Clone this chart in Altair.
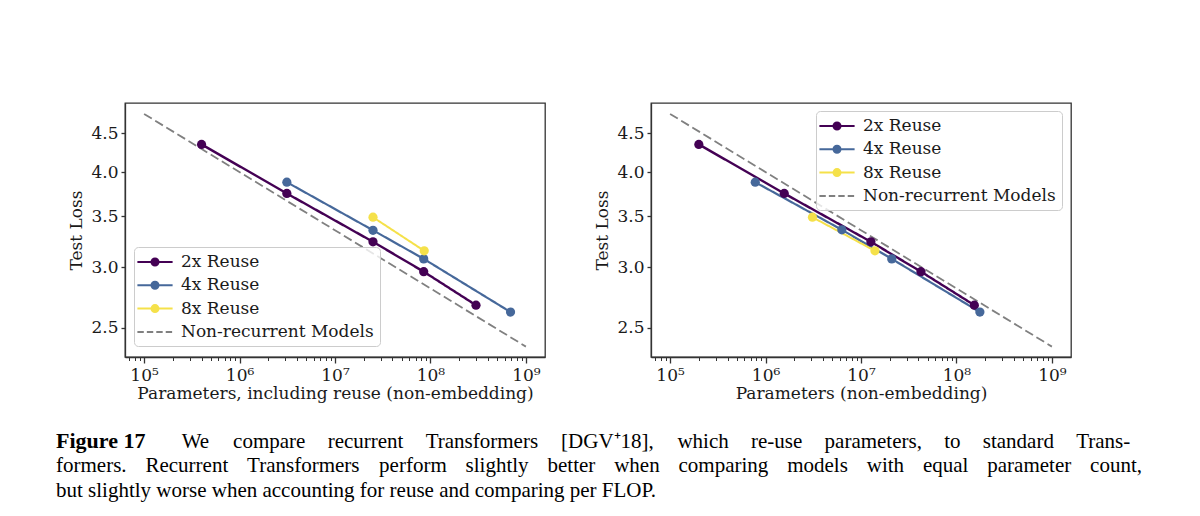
import altair as alt
import pandas as pd

# ---------------- data ----------------
series_names = ["2x Reuse", "4x Reuse", "8x Reuse", "Non-recurrent Models"]
series_colors = ["#440154", "#46689a", "#f5e14a", "#808080"]

# Left panel: parameters including reuse (non-embedding)
left_2x_x = [4.0e5, 3.13e6, 2.5e7, 8.5e7, 3.0e8]
left_2x_y = [4.35, 3.75, 3.24, 2.96, 2.675]
left_4x_x = [3.13e6, 2.5e7, 8.5e7, 6.9e8]
left_4x_y = [3.88, 3.355, 3.077, 2.62]
left_8x_x = [2.5e7, 8.6e7]
left_8x_y = [3.49, 3.153]

# Right panel: parameters (non-embedding)
right_2x_x = [2.0e5, 1.57e6, 1.27e7, 4.25e7, 1.54e8]
right_2x_y = [4.35, 3.75, 3.24, 2.96, 2.675]
right_4x_x = [7.8e5, 6.3e6, 2.1e7, 1.76e8]
right_4x_y = [3.88, 3.36, 3.077, 2.62]
right_8x_x = [3.1e6, 1.4e7]
right_8x_y = [3.49, 3.153]

# Non-recurrent baseline (dashed)
base_x = [1e5, 1e9]
base_y = [4.77, 2.36]

x_major = [1e5, 1e6, 1e7, 1e8, 1e9]
x_minor_mult = [2, 3, 4, 5, 6, 7, 8, 9]
y_ticks = [2.5, 3.0, 3.5, 4.0, 4.5]

caption_bold = "Figure 17"
caption_lines = [
    "We compare recurrent Transformers [DGV\u207a18], which re-use parameters, to standard Trans-",
    "formers. Recurrent Transformers perform slightly better when comparing models with equal parameter count,",
    "but slightly worse when accounting for reuse and comparing per FLOP.",
]

# ---------------- helpers ----------------
def make_df(parts):
    rows = []
    for name, xs, ys in parts:
        for xv, yv in zip(xs, ys):
            rows.append({"params": xv, "loss": yv, "series": name})
    return pd.DataFrame(rows)

left_df = make_df([
    (series_names[0], left_2x_x, left_2x_y),
    (series_names[1], left_4x_x, left_4x_y),
    (series_names[2], left_8x_x, left_8x_y),
    (series_names[3], base_x, base_y),
])
right_df = make_df([
    (series_names[0], right_2x_x, right_2x_y),
    (series_names[1], right_4x_x, right_4x_y),
    (series_names[2], right_8x_x, right_8x_y),
    (series_names[3], base_x, base_y),
])

x_minor = [m * 10 ** e for e in range(4, 9) for m in x_minor_mult]
x_domain = [10 ** 4.80, 10 ** 9.20]
x_tick_values = sorted([v for v in x_major + x_minor if x_domain[0] <= v <= x_domain[1]])
y_domain = [2.287, 4.93]

MAJOR = "abs(log(datum.value)/LN10 - round(log(datum.value)/LN10)) < 0.001"
SUP = "['\u2070','\u00b9','\u00b2','\u00b3','\u2074','\u2075','\u2076','\u2077','\u2078','\u2079']"
label_expr = f"{MAJOR} ? '10' + {SUP}[round(log(datum.value)/LN10)] : ''"

FONT = "DejaVu Serif"
TXT = "#1a1a1a"
SPINE = "#333333"

# legend glyphs (unit = sqrt(symbolSize)/2 = 8 px)
line_path = "M-2.2,0L2.2,0M-0.44,0A0.44,0.44,0,1,1,0.44,0A0.44,0.44,0,1,1,-0.44,0Z"
dash_path = "M-2.2,0L-1.4,0M-1.02,0L-0.22,0M0.16,0L0.96,0M1.34,0L2.14,0"

# legend scales (fill / stroke / shape of the invisible legend layer)
leg_col_scale = alt.Scale(domain=series_names, range=series_colors)
shape_scale = alt.Scale(domain=series_names, range=[line_path, line_path, line_path, dash_path])
# scales for the drawn marks: reversed order so that they are not merged with the legend
rev_names = series_names[::-1]
col_scale = alt.Scale(domain=rev_names, range=series_colors[::-1])
dash_scale = alt.Scale(domain=rev_names, range=[[9, 4], [1, 0], [1, 0], [1, 0]])
width_scale = alt.Scale(domain=rev_names, range=[1.8, 2.4, 2.4, 2.4])

# Times / Liberation Serif advance widths (1/1000 em) for caption justification
TIMES = {" ": 250, ",": 250, ".": 250, "-": 333, "[": 333, "]": 333, "\u207a": 400,
         "0": 500, "1": 500, "8": 500, "B": 667, "D": 722, "F": 556, "G": 722,
         "L": 611, "O": 722, "P": 556, "R": 667, "T": 611, "V": 722, "W": 944,
         "a": 444, "b": 500, "c": 444, "d": 500, "e": 444, "f": 333, "g": 500,
         "h": 500, "i": 278, "l": 278, "m": 778, "n": 500, "o": 500, "p": 500,
         "q": 500, "r": 333, "s": 389, "t": 278, "u": 500, "w": 722, "y": 500}


def text_width(s, size):
    return sum(TIMES.get(c, 500) for c in s) / 1000.0 * size


def panel(df, xtitle, lx, ly, with_caption=False):
    x_enc = alt.X(
        "params:Q",
        scale=alt.Scale(type="log", domain=x_domain, nice=False),
        axis=alt.Axis(
            title=xtitle,
            values=x_tick_values,
            labelExpr=label_expr,
            labelOverlap=False,
            labelFlush=False,
            tickSize={"condition": {"test": MAJOR, "value": 6}, "value": 3.5},
            tickWidth={"condition": {"test": MAJOR, "value": 1.3}, "value": 1.0},
            labelPadding=4,
            titlePadding=2,
        ),
    )
    y_enc = alt.Y(
        "loss:Q",
        scale=alt.Scale(type="log", domain=y_domain, nice=False, zero=False),
        axis=alt.Axis(
            title="Test Loss",
            values=y_ticks,
            format=".1f",
            tickSize=4,
            tickWidth=1.3,
            labelPadding=3,
            titlePadding=5,
        ),
    )
    leg = alt.Legend(
        title=None,
        orient="none",
        legendX=lx,
        legendY=ly,
        symbolSize=256,
        symbolStrokeWidth=2,
        symbolOpacity=1,
        symbolOffset=6,
        rowPadding=6.3,
        padding=6,
        labelOffset=17,
        labelFont=FONT,
        labelFontSize=17,
        labelColor=TXT,
        labelLimit=400,
        strokeColor="#cccccc",
        fillColor="rgba(255,255,255,0.8)",
        cornerRadius=4,
    )
    lines = alt.Chart(df).mark_line().encode(
        x=x_enc,
        y=y_enc,
        color=alt.Color("series:N", scale=col_scale, legend=None),
        strokeDash=alt.StrokeDash("series:N", scale=dash_scale, legend=None),
        strokeWidth=alt.StrokeWidth("series:N", scale=width_scale, legend=None),
        detail="series:N",
    )
    pts = alt.Chart(df).transform_filter(
        alt.datum.series != series_names[3]
    ).mark_circle(size=85, opacity=1).encode(
        x=x_enc,
        y=y_enc,
        color=alt.Color("series:N", scale=col_scale, legend=None),
    )
    legend_layer = alt.Chart(df).mark_point(filled=True, opacity=0, size=10).encode(
        x=x_enc,
        y=y_enc,
        fill=alt.Fill("series:N", scale=leg_col_scale, legend=leg),
        stroke=alt.Stroke("series:N", scale=leg_col_scale, legend=leg),
        shape=alt.Shape("series:N", scale=shape_scale, legend=leg),
    )
    layers = [lines, pts, legend_layer]
    if with_caption:
        cap_font = "Liberation Serif"
        cap_size = 21
        origin_x = 124.0
        base_ys = [344.5, 369.0, 393.5]

        def word_layer(word, x_abs, y_rel, weight="normal", size=cap_size):
            return alt.Chart(pd.DataFrame({"t": [word]})).mark_text(
                align="left", baseline="alphabetic", font=cap_font, fontSize=size,
                fontWeight=weight, color="#000000"
            ).encode(x=alt.value(round(x_abs - origin_x, 2)), y=alt.value(y_rel), text="t:N")

        layers.append(word_layer(caption_bold, 55, base_ys[0], "bold", 22))
        # justified lines 1 and 2
        spans = [(180.7, 1130.0), (55.0, 1141.0)]
        for line, (x0, x1), yy in zip(caption_lines[:2], spans, base_ys[:2]):
            words = line.split(" ")
            widths = [text_width(w, cap_size) for w in words]
            gap = (x1 - x0 - sum(widths)) / (len(words) - 1)
            xpos = x0
            for w, wd in zip(words, widths):
                layers.append(word_layer(w, xpos, yy))
                xpos += wd + gap
        layers.append(word_layer(caption_lines[2], 55, base_ys[2]))
    return alt.layer(*layers).properties(width=420, height=254)


left = panel(left_df, "Parameters, including reuse (non-embedding)", 9, 144, with_caption=True)
right = panel(right_df, "Parameters (non-embedding)", 165, 8)

chart = (
    alt.hconcat(left, right, spacing=106, bounds="flush")
    .resolve_scale(
        x="independent", y="independent", color="independent", fill="independent",
        stroke="independent", shape="independent", strokeDash="independent",
        strokeWidth="independent",
    )
    .resolve_legend(fill="independent", stroke="independent", shape="independent")
    .properties(padding={"left": 55, "top": 102, "right": 5, "bottom": 5}, background="white")
    .configure_view(stroke=SPINE, strokeWidth=1.3)
    .configure_axis(
        grid=False,
        domainColor=SPINE,
        domainWidth=1.3,
        tickColor=SPINE,
        labelFont=FONT,
        labelFontSize=17,
        labelColor=TXT,
        titleFont=FONT,
        titleFontSize=17,
        titleFontWeight="normal",
        titleColor=TXT,
    )
)

chart.save("out.html", embed_options={"renderer": "svg", "actions": False})
